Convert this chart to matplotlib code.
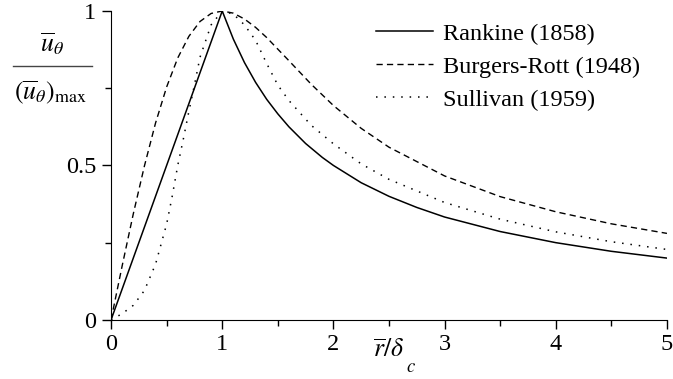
import numpy as np
import matplotlib.pyplot as plt
from matplotlib.lines import Line2D

plt.rcParams['font.family'] = ['Liberation Serif', 'DejaVu Serif']
plt.rcParams['mathtext.fontset'] = 'stix'

# values
r_rankine = [0, 1, 1.1, 1.2, 1.3, 1.4, 1.5, 1.6, 1.75, 1.9, 2.0, 2.25, 2.5, 2.75, 3.0, 3.5, 4.0, 4.5, 5.0]
v_rankine = [0, 1, 0.909, 0.833, 0.769, 0.714, 0.667, 0.625, 0.571, 0.526, 0.5, 0.444, 0.4, 0.364,
             0.333, 0.286, 0.25, 0.222, 0.2]

r_burgers = [0, 0.1, 0.2, 0.3, 0.4, 0.5, 0.6, 0.7, 0.8, 0.9, 1.0, 1.1, 1.2, 1.3, 1.4, 1.6, 1.8,
             2.0, 2.25, 2.5, 3.0, 3.5, 4.0, 4.5, 5.0]
v_burgers = [0, 0.175, 0.343, 0.498, 0.637, 0.754, 0.848, 0.918, 0.966, 0.992, 1.0, 0.993, 0.974,
             0.947, 0.914, 0.839, 0.763, 0.694, 0.620, 0.559, 0.466, 0.399, 0.350, 0.311, 0.280]

r_sullivan = [0, 0.1, 0.2, 0.3, 0.4, 0.5, 0.55, 0.6, 0.65, 0.7, 0.75, 0.8, 0.9, 1.0, 1.1, 1.2, 1.3,
              1.4, 1.5, 1.6, 1.8, 2.0, 2.25, 2.5, 3.0, 3.5, 4.0, 4.5, 5.0]
v_sullivan = [0, 0.02, 0.047, 0.095, 0.18, 0.31, 0.40, 0.50, 0.585, 0.675, 0.76, 0.85, 0.955, 1.0,
              0.99, 0.955, 0.905, 0.83, 0.76, 0.71, 0.63, 0.57, 0.505, 0.455, 0.38, 0.326, 0.285,
              0.253, 0.228]

fs = 17.5

fig = plt.figure(figsize=(6.73, 3.79), dpi=100)
ax = fig.add_axes([0.165, 0.156, 0.826, 0.815])

ax.plot(r_rankine, v_rankine, color='black', lw=1.1, label='Rankine (1858)')
ax.plot(r_burgers, v_burgers, color='black', lw=1.0, linestyle=(0, (4.5, 3)), label='Burgers-Rott (1948)')
ax.plot(r_sullivan, v_sullivan, color='black', lw=1.1, linestyle=(0, (1, 4.5)), label='Sullivan (1959)')

ax.set_xlim(0, 5)
ax.set_ylim(0, 1)
ax.spines['top'].set_visible(False)
ax.spines['right'].set_visible(False)
ax.set_xticks([0, 1, 2, 3, 4, 5])
ax.set_xticks([0.5, 1.5, 2.5, 3.5, 4.5], minor=True)
ax.set_yticks([0, 0.5, 1])
ax.set_yticklabels(['0', '0.5', '1'])
ax.set_yticks([0.25, 0.75], minor=True)
ax.tick_params(which='major', direction='out', length=6.5, width=1, labelsize=fs, pad=4)
ax.tick_params(which='minor', direction='out', length=4, width=1)

# x label: r/delta with a low subscript c
fig.text(373 / 673, 1 - 350 / 379, r'$\overline{r}/\delta$', fontsize=fs + 1, ha='left', va='center')
fig.text(406 / 673, 1 - 368 / 379, r'$c$', fontsize=fs - 4, ha='left', va='center')

# y label: stacked fraction
fig.text(52 / 673, 1 - 44 / 379, r'$\overline{u}_\theta$', fontsize=fs + 1, ha='center', va='center')
fig.add_artist(Line2D([13 / 673, 92 / 673], [1 - 66 / 379, 1 - 66 / 379], color='#444444', lw=1.0))
fig.text(51 / 673, 1 - 92 / 379, r'$(\overline{u}_\theta)_{\mathrm{max}}$', fontsize=fs + 1,
         ha='center', va='center')

ax.legend(loc='upper left', bbox_to_anchor=(0.4766, 0.962), frameon=False, fontsize=fs,
          handlelength=2.35, handletextpad=0.4, labelspacing=0.45, borderpad=0, borderaxespad=0)

fig.savefig('out.png', dpi=100)
